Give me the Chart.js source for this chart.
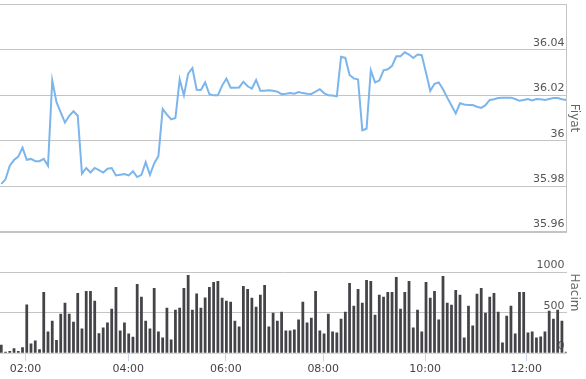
<!DOCTYPE html>
<html>
<head>
<meta charset="utf-8">
<script src="https://cdn.jsdelivr.net/npm/chart.js@4/dist/chart.umd.min.js"></script>
<style>
  html, body { margin: 0; padding: 0; background: #fff; }
  #wrap { width: 586px; height: 379px; }
</style>
</head>
<body>
<div id="wrap"><canvas id="chart" width="586" height="379"></canvas></div>
<script>
// price every 5 minutes (Fiyat)
const price = [
  35.981, 35.983, 35.989, 35.9915, 35.993, 35.997, 35.9916, 35.992, 35.991, 35.991,
  35.992, 35.989, 36.0266, 36.017, 36.0125, 36.008, 36.011, 36.013, 36.011, 35.9855,
  35.988, 35.986, 35.988, 35.987, 35.986, 35.9877, 35.988, 35.9847, 35.985, 35.9853,
  35.9847, 35.9865, 35.984, 35.985, 35.9906, 35.985, 35.990, 35.9933, 36.014, 36.0115,
  36.0094, 36.010, 36.027, 36.020, 36.0296, 36.032, 36.0225, 36.0224, 36.0257, 36.0205,
  36.020, 36.020, 36.0243, 36.0274, 36.0234, 36.0234, 36.0235, 36.026, 36.024, 36.023,
  36.0268, 36.022, 36.022, 36.0222, 36.022, 36.0216, 36.0205, 36.0207, 36.021, 36.0207,
  36.0215, 36.021, 36.0207, 36.0206, 36.0216, 36.0227, 36.021, 36.020, 36.0199, 36.0196,
  36.037, 36.0365, 36.029, 36.0275, 36.027, 36.0046, 36.0053, 36.031, 36.0257, 36.0265,
  36.031, 36.0315, 36.033, 36.0372, 36.0372, 36.039, 36.038, 36.0365, 36.038, 36.0377,
  36.030, 36.022, 36.0251, 36.0257, 36.0227, 36.019, 36.0155, 36.012, 36.0165, 36.016,
  36.0157, 36.0157, 36.015, 36.0145, 36.0157, 36.018, 36.0183, 36.0188, 36.019, 36.019,
  36.019, 36.0184, 36.0176, 36.018, 36.0184, 36.0178, 36.0184, 36.0183, 36.018, 36.0184,
  36.0188, 36.0188, 36.0183, 36.018
];

// volume every 5 minutes (Hacim)
const volume = [
  106, 20, 28, 61, 28, 73, 602, 122, 159, 49, 756, 268, 402, 163, 488, 622, 488, 390, 744, 305,
  768, 768, 646, 248, 317, 378, 549, 817, 280, 378, 244, 203, 854, 695, 402, 305, 805, 268, 195, 561,
  171, 537, 561, 805, 963, 537, 736, 561, 687, 817, 878, 890, 683, 646, 634, 402, 329, 829, 793, 683,
  573, 720, 841, 329, 500, 402, 512, 280, 280, 293, 415, 634, 378, 439, 768, 280, 244, 488, 268, 256,
  427, 512, 866, 585, 793, 622, 902, 890, 476, 720, 695, 756, 756, 939, 549, 756, 890, 317, 537, 268,
  878, 683, 768, 415, 951, 622, 598, 780, 720, 195, 585, 341, 732, 805, 500, 695, 744, 512, 134, 463,
  585, 244, 756, 756, 256, 268, 195, 207, 268, 524, 427, 537, 402, 20
];

const hourTickPos = [5.7, 29.9, 52.9, 75.8, 99.8, 123.6];
const hourTickText = ['02:00', '04:00', '06:00', '08:00', '10:00', '12:00'];

const priceTicks = [35.96, 35.98, 36, 36.02, 36.04, 36.06];
const priceTickText = ['35.96', '35.98', '36', '36.02', '36.04', ''];

const volumeTicks = [0, 500, 1000, 1500];
const volumeTickText = ['0', '500', '1000', ''];

Chart.defaults.font.family = '"DejaVu Sans", sans-serif';

const ctx = document.getElementById('chart').getContext('2d');
const chart = new Chart(ctx, {
  data: {
    datasets: [
      {
        type: 'line',
        label: 'Fiyat',
        data: price.map((v, i) => ({ x: i, y: v })),
        yAxisID: 'yPrice',
        borderColor: '#7cb5ec',
        borderWidth: 2,
        pointRadius: 0,
        tension: 0
      },
      {
        type: 'bar',
        label: 'Hacim',
        data: volume.map((v, i) => ({ x: i, y: v })),
        yAxisID: 'yVolume',
        backgroundColor: '#434348',
        barPercentage: 0.65,
        categoryPercentage: 1
      }
    ]
  },
  options: {
    responsive: false,
    animation: false,
    layout: { padding: { top: 3, right: 1, bottom: 2.5, left: 0 } },
    plugins: {
      legend: { display: false },
      tooltip: { enabled: false }
    },
    scales: {
      x: {
        type: 'linear',
        offset: false,
        min: -0.3,
        max: 133.1,
        afterBuildTicks: axis => { axis.ticks = hourTickPos.map(v => ({ value: v })); },
        ticks: {
          autoSkip: false,
          maxRotation: 0,
          padding: 1,
          color: '#444',
          font: { size: 11 },
          callback: (v, i) => hourTickText[i]
        },
        grid: { offset: false, drawOnChartArea: false, color: '#ccd6eb', tickLength: 8 },
        border: { color: '#ccd6eb' }
      },
      yPrice: {
        type: 'linear',
        position: 'right',
        stack: 'panes',
        stackWeight: 228.6,
        min: 35.96,
        max: 36.06,
        afterBuildTicks: axis => { axis.ticks = priceTicks.map(v => ({ value: v })); },
        ticks: {
          mirror: true,
          padding: -2,
          labelOffset: -7,
          color: '#555',
          font: { size: 11 },
          callback: (v, i) => priceTickText[i]
        },
        grid: {
          color: '#c4c4c4',
          drawTicks: false,
          lineWidth: c => (c.tick && c.tick.value === 35.96 ? 2 : 1)
        },
        border: { display: true, color: '#c4c4c4' },
        title: { display: true, text: 'Fiyat', color: '#666', font: { size: 12 }, padding: { top: 4, bottom: 4 } }
      },
      yVolume: {
        type: 'linear',
        position: 'right',
        stack: 'panes',
        stackWeight: 122.7,
        min: 0,
        max: 1500,
        afterBuildTicks: axis => { axis.ticks = volumeTicks.map(v => ({ value: v })); },
        ticks: {
          mirror: true,
          padding: -2,
          labelOffset: -7,
          color: '#555',
          font: { size: 11 },
          callback: (v, i) => volumeTickText[i]
        },
        grid: {
          color: c => (c.tick && c.tick.value === 0 ? 'rgba(0,0,0,0)' : '#c4c4c4'),
          drawTicks: false
        },
        border: { display: false },
        title: { display: true, text: 'Hacim', color: '#666', font: { size: 12 }, padding: { top: 4, bottom: 4 } }
      }
    }
  }
});
</script>
</body>
</html>
